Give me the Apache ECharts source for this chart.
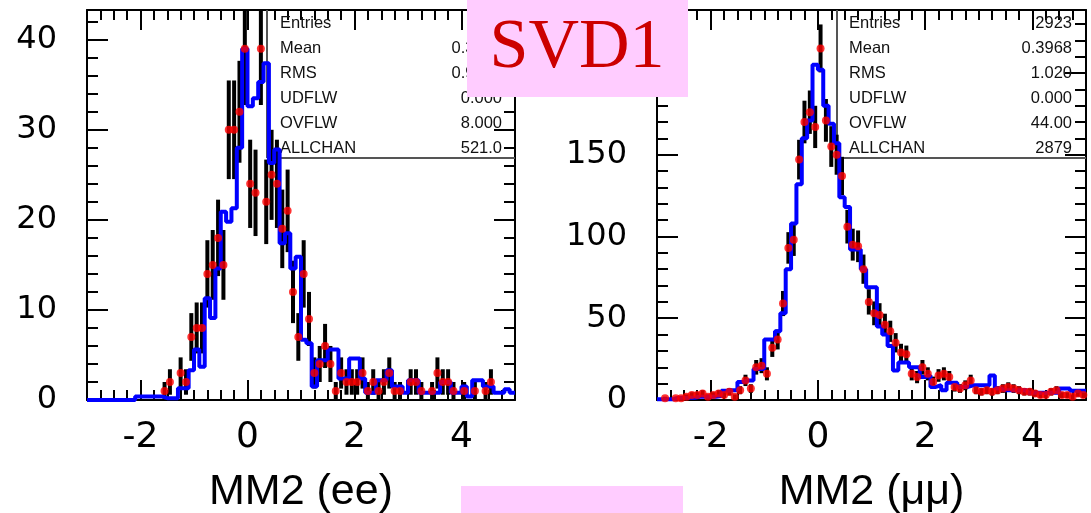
<!DOCTYPE html>
<html><head><meta charset="utf-8">
<script src="https://cdn.jsdelivr.net/npm/echarts@6/dist/echarts.min.js"></script>
<style>html,body{margin:0;padding:0;background:#fff}#c{width:1091px;height:513px}</style>
</head><body><div id="c"></div>
<script>
// ---- data (80 bins of width 0.1 from -3 to 5) ----
const X_MIN = -3, X_MAX = 5, BIN_W = 0.1;
const eeData = [0,0,0,0,0,0,0,0,0,0, 0,0,0,0,1,2,0,3,2,7, 8,8,14,15,18,15,30,30,32,39, 24,23,39,22,25,24,19,21,12,7, 14,9,3,4,6,4,1,3,2,2, 2,3,1,2,1,2,3,1,1,0, 2,2,1,0,1,3,2,2,1,0, 1,0,1,0,1,2,0,0,0,0];
const eeMC = [0,0,0,0,0,0,0,0,0,0.4, 0.4,0.4,0.4,0.4,0.2,0.2,0.2,1.3,1.3,3.3, 5.6,3.7,11.3,9.1,14.6,20.9,19.8,21.3,28,39, 32.6,33.5,35.3,37.4,26.3,27.8,17.4,18.5,14.6,15.9, 6.7,6.3,1.5,4.4,4.4,5.6,5.6,2.4,2.4,4.6, 4.6,2.4,0.8,0.8,2.2,2.2,3.3,1.5,1.5,0.8, 2.2,2.2,0.8,0.8,0.8,0.8,2,2,0.8,0.8, 1.5,0.4,2.2,2.2,1.5,1.5,0.8,0.8,1.2,0.8];
const mmData = [0,1,0,1,1,2,3,3,4,2, 3,4,3,5,2,6,12,7,20,21, 16,32,37,59,93,98,147,170,176,167, 215,171,155,150,137,106,95,94,80,60, 53,52,46,42,35,29,28,16,14,20, 16,11,15,16,14,8,7,9,12,6, 5,6,5,6,7,8,7,6,5,5, 4,3,3,5,6,3,3,2,4,3];
const mmMC = [0.4,0.4,0.4,1.4,1.4,1.4,1.4,2,2,2, 2,2.5,5.7,6,6,11,12,12,19,19, 37,37,42,53,80,108,132,160,171,205, 202,180,169,157,124,118,92,92,80,69, 69,45,40,33,18,23,23,20,20,14, 15,8,9,6,10.6,10.6,8,8,9,9, 9,9,15,7,6,6,6,6,6,4.5, 4.5,4.5,4.5,4.5,4.5,7,7,5.7,5.7,5.7];
const xTickValues = [-2, 0, 2, 4];
const eeYTicks = [0, 10, 20, 30, 40];
const mmYTicks = [0, 50, 100, 150, 200];
const eeYMax = 43.3, mmYMax = 238.5;
const eeYMinorStep = 2, mmYMinorStep = 10;
const xTitles = ['MM2 (ee)', 'MM2 (\u03bc\u03bc)'];
const statNames = ['Entries', 'Mean', 'RMS', 'UDFLW', 'OVFLW', 'ALLCHAN'];
const eeStatValues = ['529', '0.3377', '0.9256', '0.000', '8.000', '521.0'];
const mmStatValues = ['2923', '0.3968', '1.020', '0.000', '44.00', '2879'];
const bannerText = 'SVD1';

// ---- helpers ----
function stepPoints(mc) {
  const pts = mc.map((v, i) => [X_MIN + i * BIN_W, v]);
  pts.push([X_MAX, mc[mc.length - 1]]);
  return pts;
}
function centerPoints(d) {
  return d.map((v, i) => [X_MIN + (i + 0.5) * BIN_W, v]).filter(p => p[1] > 0);
}

const panels = [
  {left: 87, width: 428, data: eeData, mc: eeMC, yMax: eeYMax, yTicks: eeYTicks, yMinor: eeYMinorStep, title: xTitles[0],
   statsX: 267, textX: 280, valX: 502, stats: eeStatValues},
  {left: 657, width: 429, data: mmData, mc: mmMC, yMax: mmYMax, yTicks: mmYTicks, yMinor: mmYMinorStep, title: xTitles[1],
   statsX: 837, textX: 849, valX: 1072, stats: mmStatValues}
];
const TOP = 10, H = 390;

const grid = [], xAxis = [], yAxis = [], series = [], graphic = [];
const black = '#000';

panels.forEach((p, gi) => {
  grid.push({left: p.left, top: TOP, width: p.width, height: H, containLabel: false, outerBoundsMode: 'none'});
  ['bottom', 'top'].forEach(pos => {
    [true, false].forEach(major => {
      const ax = {
        type: 'value', gridIndex: gi, position: pos, min: X_MIN, max: X_MAX, interval: major ? 1 : 0.25,
        axisLine: {show: major, onZero: false, lineStyle: {color: black, width: 2}},
        axisTick: {show: true, inside: true, length: major ? 20 : 10, lineStyle: {color: black, width: 2}},
        axisLabel: {show: false},
        splitLine: {show: false}
      };
      if (major) ax.axisTick.customValues = xTickValues;
      if (major && pos === 'bottom') {
        ax.axisLabel = {show: true, customValues: xTickValues, fontFamily: 'DejaVu Sans', fontSize: 36, color: black, margin: 20};
        ax.name = p.title;
        ax.nameLocation = 'middle';
        ax.nameGap = 71;
        ax.nameTextStyle = {fontFamily: 'Liberation Sans', fontSize: 43, color: black};
      }
      xAxis.push(ax);
    });
  });
  ['left', 'right'].forEach(pos => {
    [true, false].forEach(major => {
      const ax = {
        type: 'value', gridIndex: gi, position: pos, min: 0, max: p.yMax, interval: major ? p.yTicks[1] : p.yMinor,
        axisLine: {show: major, onZero: false, lineStyle: {color: black, width: 2}},
        axisTick: {show: true, inside: true, length: major ? 21 : 11, lineStyle: {color: black, width: 2}},
        axisLabel: {show: false},
        splitLine: {show: false}
      };
      if (major) ax.axisTick.customValues = p.yTicks;
      if (major && pos === 'left') {
        ax.axisLabel = {show: true, customValues: p.yTicks, fontFamily: 'DejaVu Sans', fontSize: 32, color: black, margin: 30};
      }
      yAxis.push(ax);
    });
  });
  const xi = gi * 4, yi = gi * 4;
  series.push({
    type: 'custom', xAxisIndex: xi, yAxisIndex: yi, z: 2, silent: true,
    data: centerPoints(p.data), encode: {x: 0, y: 1},
    renderItem: function (params, api) {
      const x = api.value(0), v = api.value(1), e = Math.sqrt(v);
      const lo = api.coord([x, v - e]), hi = api.coord([x, v + e]);
      const cs = params.coordSys;
      const y1 = Math.min(lo[1], cs.y + cs.height), y2 = Math.max(hi[1], cs.y);
      return {type: 'line', shape: {x1: lo[0], y1: y1, x2: lo[0], y2: y2}, style: {stroke: black, lineWidth: 4}};
    }
  });
  series.push({
    type: 'line', xAxisIndex: xi, yAxisIndex: yi, z: 3, step: 'end', symbol: 'none', silent: true,
    data: stepPoints(p.mc), lineStyle: {color: '#0000ff', width: 4}
  });
  series.push({
    type: 'scatter', xAxisIndex: xi, yAxisIndex: yi, z: 4, symbolSize: 8, silent: true,
    data: centerPoints(p.data), itemStyle: {color: '#ff0000'}
  });
  // stats box
  const right = p.left + p.width;
  graphic.push({type: 'line', z: 1, shape: {x1: p.statsX, y1: TOP, x2: p.statsX, y2: 158}, style: {stroke: '#555', lineWidth: 2}});
  graphic.push({type: 'line', z: 1, shape: {x1: p.statsX, y1: 158, x2: right, y2: 158}, style: {stroke: '#555', lineWidth: 2}});
  statNames.forEach((n, i) => {
    const y = 23 + 25 * i;
    graphic.push({type: 'text', z: 1, style: {text: n, x: p.textX, y: y, textAlign: 'left', textVerticalAlign: 'middle', font: '16.5px "Liberation Sans"', fill: '#111'}});
    graphic.push({type: 'text', z: 1, style: {text: p.stats[i], x: p.valX, y: y, textAlign: 'right', textVerticalAlign: 'middle', font: '16.5px "Liberation Sans"', fill: '#111'}});
  });
});

// banner boxes
graphic.push({type: 'rect', z: 100, shape: {x: 467, y: 0, width: 221, height: 97}, style: {fill: '#ffccff'}});
graphic.push({type: 'text', z: 101, style: {text: bannerText, x: 577, y: 49, textAlign: 'center', textVerticalAlign: 'middle', font: '70px "Liberation Serif"', fill: '#cc0000'}});
graphic.push({type: 'rect', z: 100, shape: {x: 461, y: 486, width: 222, height: 27}, style: {fill: '#ffccff'}});

const chart = echarts.init(document.getElementById('c'), null, {renderer: 'canvas'});
chart.setOption({animation: false, backgroundColor: '#fff', grid, xAxis, yAxis, series, graphic});
</script></body></html>
